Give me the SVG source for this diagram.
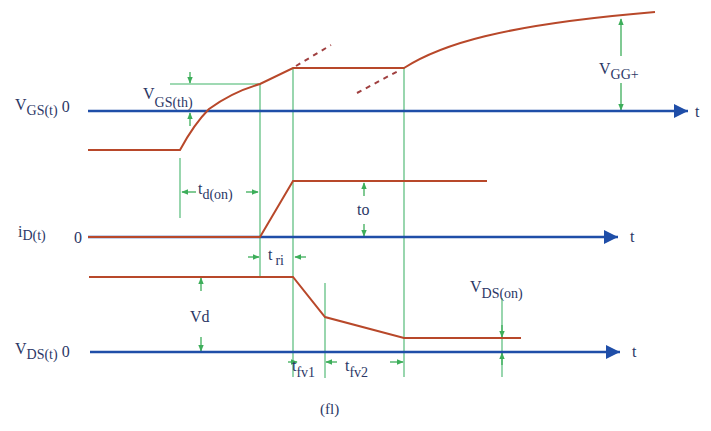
<svg xmlns="http://www.w3.org/2000/svg" width="711" height="431" viewBox="0 0 711 431">
<defs>
<marker id="ga" viewBox="0 0 10 10" refX="9" refY="5" markerWidth="7" markerHeight="7" orient="auto" markerUnits="userSpaceOnUse"><path d="M0,1 L10,5 L0,9 z" fill="#3dae5a"/></marker>
<marker id="ba" viewBox="0 0 10 10" refX="10" refY="5" markerWidth="14" markerHeight="14" orient="auto" markerUnits="userSpaceOnUse"><path d="M0,0 L10,5 L0,10 z" fill="#1f4ea8"/></marker>
<style>
.ax{stroke:#1f4ea8;stroke-width:2.5;fill:none}
.cv{stroke:#b8482a;stroke-width:2;fill:none}
.dash{stroke:#a04040;stroke-width:2;fill:none;stroke-dasharray:5,5}
.gl{stroke:#7fcc9a;stroke-width:1.6;fill:none}
.ga{stroke:#3dae5a;stroke-width:1.3;fill:none;marker-end:url(#ga)}
.t{font-family:"Liberation Serif","DejaVu Serif",serif;fill:#2b3766;font-size:16px}
.s{font-size:14px}
</style>
</defs>
<g id="connectors">
<line class="gl" x1="170" y1="84" x2="260" y2="84"/>
<line class="gl" x1="260" y1="84" x2="260" y2="277"/>
<line class="gl" x1="293" y1="68" x2="293" y2="377"/>
<line class="gl" x1="404" y1="68" x2="404" y2="377"/>
<line class="gl" x1="180" y1="158" x2="180" y2="218"/>
<line class="gl" x1="325" y1="283" x2="325" y2="378"/>
<line class="gl" x1="502" y1="298" x2="502" y2="377"/>
<line class="ga" x1="190" y1="72" x2="190" y2="83"/>
<line class="ga" x1="190" y1="126" x2="190" y2="113"/>
<line class="ga" x1="196" y1="192" x2="182" y2="192"/>
<line class="ga" x1="246" y1="192" x2="258" y2="192"/>
<line class="ga" x1="248" y1="257" x2="259" y2="257"/>
<line class="ga" x1="306" y1="257" x2="295" y2="257"/>
<line class="ga" x1="364" y1="196" x2="364" y2="183"/>
<line class="ga" x1="364" y1="224" x2="364" y2="236"/>
<line class="ga" x1="201" y1="291" x2="201" y2="278"/>
<line class="ga" x1="201" y1="337" x2="201" y2="351"/>
<line class="ga" x1="621" y1="56" x2="621" y2="19"/>
<line class="ga" x1="621" y1="83" x2="621" y2="110"/>
<line class="ga" x1="502" y1="325" x2="502" y2="337"/>
<line class="ga" x1="502" y1="365" x2="502" y2="353"/>
<line class="ga" x1="288" y1="362" x2="297" y2="362"/>
<line class="ga" x1="337" y1="362" x2="326" y2="362"/>
<line class="ga" x1="390" y1="362" x2="403" y2="362"/>
<line class="ax" x1="88" y1="111" x2="688" y2="111" marker-end="url(#ba)"/>
<line class="ax" x1="88" y1="237" x2="618" y2="237" marker-end="url(#ba)"/>
<line class="ax" x1="90" y1="352" x2="620" y2="352" marker-end="url(#ba)"/>
<line class="dash" x1="296" y1="66" x2="331" y2="45"/>
<line class="dash" x1="357" y1="93" x2="400" y2="70"/>
</g>
<g id="vgs-curve">
<path class="cv" d="M88,150 H180 Q194,124 209,109 Q232,92 260,84 L293,68 H404 C440,45 500,25 655,12"/>
</g>
<g id="id-curve">
<path class="cv" d="M88,237 H260 L293,181 H487"/>
</g>
<g id="vds-curve">
<path class="cv" d="M89,277 H293 L325,317 L404,338 H521"/>
</g>
<g id="labels">
<text class="t" x="15" y="110">V<tspan class="s" dy="5">GS(t)</tspan><tspan dy="-3"> 0</tspan></text>
<text class="t" x="143" y="99">V<tspan class="s" dy="8">GS(th)</tspan></text>
<text class="t" x="198" y="194">t<tspan class="s" dy="5">d(on)</tspan></text>
<text class="t" x="18" y="237">i<tspan class="s" dy="3">D(t)</tspan></text>
<text class="t" x="74" y="243">0</text>
<text class="t" x="268" y="260">t<tspan class="s" dx="3" dy="5">ri</tspan></text>
<text class="t" x="357" y="215">to</text>
<text class="t" x="630" y="242">t</text>
<text class="t" x="695" y="117">t</text>
<text class="t" x="599" y="74">V<tspan class="s" dy="5">GG+</tspan></text>
<text class="t" x="190" y="322">Vd</text>
<text class="t" x="15" y="354">V<tspan class="s" dy="5">DS(t)</tspan><tspan dy="-2"> 0</tspan></text>
<text class="t" x="632" y="357">t</text>
<text class="t" x="470" y="292">V<tspan class="s" dy="6">DS(on)</tspan></text>
<text class="t" x="292" y="371">t<tspan class="s" dy="6">fv1</tspan></text>
<text class="t" x="345" y="371">t<tspan class="s" dy="6">fv2</tspan></text>
<text class="t" x="320" y="414" style="font-size:15px">(fl)</text>
</g>
</svg>
